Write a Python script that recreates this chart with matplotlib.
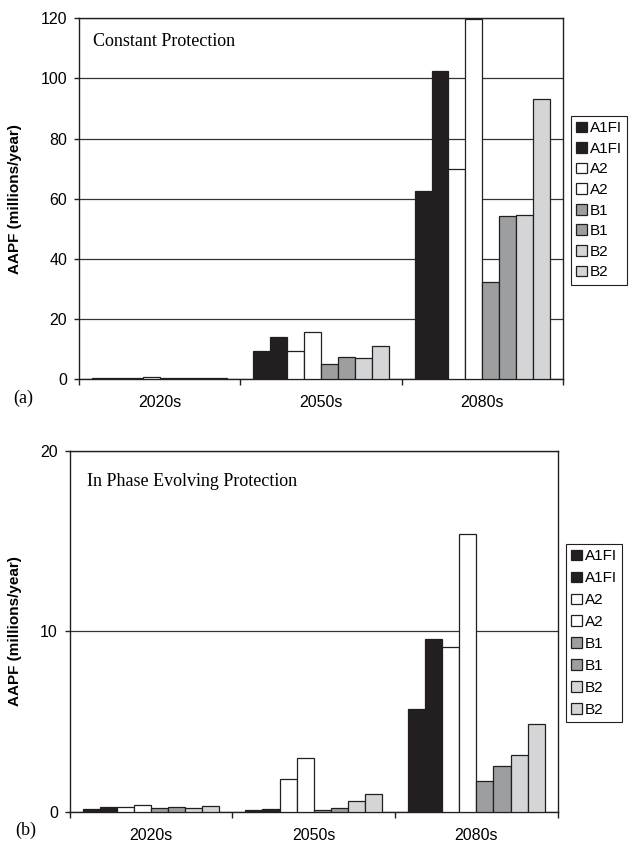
import matplotlib
import numpy as np

matplotlib.use("Agg")
import matplotlib.pyplot as plt

periods = ["2020s", "2050s", "2080s"]
scenarios = ["A1FI", "A1FI", "A2", "A2", "B1", "B1", "B2", "B2"]
bar_colors = ["#231f20", "#231f20", "#ffffff", "#ffffff",
              "#9d9ea0", "#9d9ea0", "#d4d5d7", "#d4d5d7"]

# AAPF (millions/year), one row per bar in legend order, columns = periods
constant_protection = [
    [0.3, 9.4, 62.7],
    [0.3, 14.1, 102.4],
    [0.3, 9.4, 70.0],
    [0.5, 15.7, 119.8],
    [0.2, 4.9, 32.4],
    [0.2, 7.4, 54.1],
    [0.2, 7.1, 54.5],
    [0.4, 11.1, 93.0],
]
evolving_protection = [
    [0.17, 0.08, 5.71],
    [0.24, 0.15, 9.56],
    [0.26, 1.79, 9.12],
    [0.39, 3.00, 15.36],
    [0.19, 0.10, 1.71],
    [0.24, 0.18, 2.54],
    [0.21, 0.59, 3.13],
    [0.33, 0.98, 4.88],
]

W, H = 629, 844
plt.rcParams["font.family"] = ["Liberation Sans", "DejaVu Sans"]
fig = plt.figure(figsize=(W / 100, H / 100), dpi=100)

panels = [
    dict(vals=constant_protection, rect=(79, 18.3, 563, 379), ymax=120, ystep=20,
         title="Constant Protection", title_xy=(92.7, 41), tag="(a)", tag_xy=(13, 398),
         leg_xy=(570.7, 116), leg_sp=0.43),
    dict(vals=evolving_protection, rect=(69.7, 450.7, 557.7, 811.7), ymax=20, ystep=10,
         title="In Phase Evolving Protection", title_xy=(87.3, 482), tag="(b)", tag_xy=(15, 830),
         leg_xy=(565.7, 544), leg_sp=0.52),
]

x = np.arange(len(periods))
bw = 0.105
ink = "#231f20"

for p in panels:
    l, t, r, b = p["rect"]
    ax = fig.add_axes([l / W, 1 - b / H, (r - l) / W, (b - t) / H])
    vals = np.array(p["vals"])
    for i in range(len(scenarios)):
        ax.bar(x + (i - 3.5) * bw, vals[i], width=bw, color=bar_colors[i],
               edgecolor=ink, linewidth=0.9, label=scenarios[i], zorder=3)
    ax.set_xlim(-0.5, 2.5)
    ax.set_ylim(0, p["ymax"])
    ax.set_yticks(np.arange(0, p["ymax"] + 1, p["ystep"]))
    ax.yaxis.grid(True, color="#333333", linewidth=0.9, zorder=0)
    ax.set_xticks([-0.5, 0.5, 1.5, 2.5])
    ax.set_xticklabels([])
    ax.set_xticks(x, minor=True)
    ax.set_xticklabels(periods, minor=True)
    ax.tick_params(axis="x", which="major", length=4.5, width=1, color=ink)
    ax.tick_params(axis="x", which="minor", length=0, pad=11.5, labelsize=11.5)
    ax.tick_params(axis="y", length=3.6, width=1, color=ink, pad=5, labelsize=11.5)
    for s in ax.spines.values():
        s.set_color(ink)
        s.set_linewidth(1.0)
    ax.set_ylabel("AAPF (millions/year)", fontweight="bold", fontsize=11)
    ax.yaxis.set_label_coords((21.7 - l) / (r - l), 0.5)

    tx, ty = p["title_xy"]
    ax.text((tx - l) / (r - l), (b - ty) / (b - t), p["title"], transform=ax.transAxes,
            family="Liberation Serif", fontsize=13, ha="left", va="center")
    gx, gy = p["tag_xy"]
    fig.text(gx / W, 1 - gy / H, p["tag"], family="Liberation Serif", fontsize=13,
             ha="left", va="center")

    lx, ly = p["leg_xy"]
    leg = ax.legend(loc="upper left", bbox_to_anchor=(lx / W, 1 - ly / H),
                    bbox_transform=fig.transFigure, borderaxespad=0, fontsize=11,
                    handlelength=0.7, handleheight=0.7, handletextpad=0.2,
                    labelspacing=p["leg_sp"], borderpad=0.35, fancybox=False,
                    framealpha=1, edgecolor=ink)
    leg.get_frame().set_linewidth(0.8)

fig.savefig("out.png", dpi=100)
